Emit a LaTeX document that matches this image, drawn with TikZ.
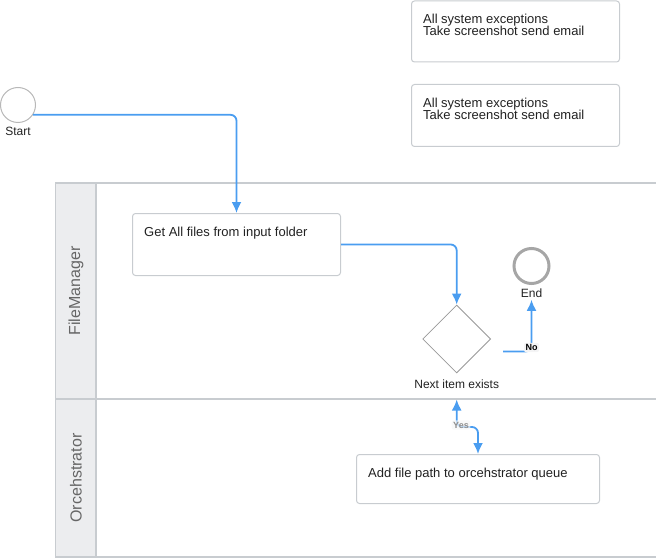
\documentclass[tikz,border=0pt]{standalone}
\usepackage{fontspec}
\setmainfont{Liberation Sans}
\usetikzlibrary{arrows.meta,shapes.geometric}

\definecolor{flowblue}{HTML}{4A9DF0}
\definecolor{edgegray}{HTML}{C8CCD0}
\definecolor{headgray}{HTML}{ECEDEF}
\definecolor{txtgray}{HTML}{222222}

\tikzset{
  task/.style={draw=edgegray, line width=1pt, rounded corners=3pt, fill=white, inner sep=0pt},
  tasktext/.style={anchor=north west, inner sep=0pt, align=left, text=txtgray, font=\fontsize{13}{12.3}\selectfont},
  evlabel/.style={inner sep=0pt, text=txtgray, font=\fontsize{12}{14}\selectfont},
  lanetext/.style={rotate=90, text=black!60, font=\fontsize{16}{18}\selectfont},
  lanebox/.style={draw=edgegray, line width=1.2pt},
  tip/.tip={Latex[length=11pt,width=10pt]},
  flow/.style={draw=flowblue, line width=1.8pt, rounded corners=6pt, -tip},
  flowlabel/.style={fill=headgray!60, inner sep=1.5pt, rounded corners=2pt, font=\fontsize{9}{10}\selectfont\bfseries}
}

\begin{document}
\begin{tikzpicture}[x=1pt, y=-1pt]
\clip (0,0) rectangle (656,559);

% pool and lanes
\fill[headgray] (55.5,183) rectangle (96,557);
\draw[lanebox] (660,183) -- (55.5,183) -- (55.5,557) -- (660,557);
\draw[lanebox] (96,183) -- (96,557);
\draw[lanebox] (55.5,399) -- (660,399);
\node[lanetext] (lanefile) at (76,291) {FileManager};
\node[lanetext] (laneorch) at (76,478) {Orcehstrator};

% exception notes
\node[task, anchor=north west, minimum width=208pt, minimum height=61pt] (exc1) at (411,0.5) {};
\node[tasktext] (exc1txt) at ([xshift=12pt,yshift=-13pt]exc1.north west) {All system exceptions\\Take screenshot send email};
\node[task, anchor=north west, minimum width=208pt, minimum height=62pt] (exc2) at (411,84) {};
\node[tasktext] (exc2txt) at ([xshift=12pt,yshift=-13.5pt]exc2.north west) {All system exceptions\\Take screenshot send email};

% events
\node[circle, draw=black!28, line width=1pt, minimum size=35pt, inner sep=0pt] (start) at (18,105) {};
\node[evlabel, anchor=north] (startlbl) at ([yshift=-4pt]start.south) {Start};
\node[circle, draw=black!35, line width=3pt, minimum size=35pt, inner sep=0pt] (end) at (531.5,266) {};
\node[evlabel, anchor=north, outer sep=2.5pt] (endlbl) at ([yshift=-1pt]end.south) {End};

% tasks
\node[task, anchor=north west, minimum width=208pt, minimum height=62pt] (getfiles) at (132,213) {};
\node[tasktext] (getfilestxt) at ([xshift=12pt,yshift=-13.5pt]getfiles.north west) {Get All files from input folder};
\node[task, anchor=north west, minimum width=243pt, minimum height=49pt] (addpath) at (356,454) {};
\node[tasktext] (addpathtxt) at ([xshift=12pt,yshift=-13.5pt]addpath.north west) {Add file path to orcehstrator queue};

% gateway
\node[diamond, draw=black!40, line width=0.8pt, minimum width=68pt, minimum height=68pt, inner sep=0pt] (decide) at (456.7,339) {};
\node[evlabel, anchor=north] (decidelbl) at ([yshift=-6.5pt]decide.south) {Next item exists};

% flows
\coordinate (nofrom) at (503,351.5);
\coordinate (yesto) at (456.7,399.5);
\draw[flow] (start.-33) -| (getfiles.north);
\draw[flow] (getfiles.east) -| (decide.north);
\draw[flow] (nofrom) -| node[pos=0.5, flowlabel, yshift=4pt] (nolbl) {No} (endlbl.south);
\draw[flow, tip-tip] (yesto) -- (yesto |- 0,427) -| (addpath.north);
\node[flowlabel, fill=headgray!50, fill opacity=0.7, text opacity=1, text=black!45] (yeslbl) at (461,425) {Yes};
\end{tikzpicture}
\end{document}
